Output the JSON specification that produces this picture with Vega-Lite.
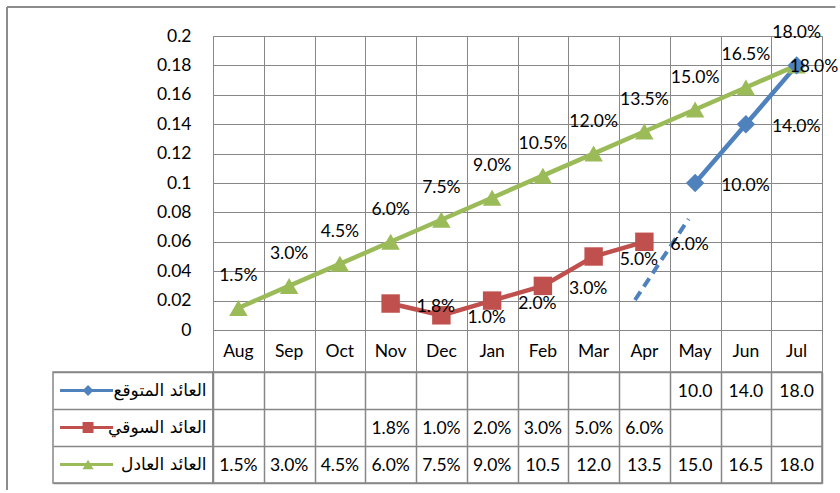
{
  "$schema": "https://vega.github.io/schema/vega-lite/v6.json",
  "padding": {"left": 6, "top": 6, "right": 0, "bottom": 0},
  "background": "white",
  "spacing": 0,
  "bounds": "flush",
  "columns": 2,
  "config": {
    "font": "Lato",
    "legend": {"disable": true},
    "axis": {"gridColor": "#878787", "gridOpacity": 1, "gridWidth": 1, "labelColor": "#000000", "labelFont": "Lato", "labelFontSize": 17.5, "domain": false, "ticks": false, "labelOverlap": false},
    "text": {"font": "Lato", "fontSize": 17.5, "color": "#000000"}
  },
  "datasets": {
    "rows": [
      {"month": "Aug", "series": "العائد العادل", "value": 0.015},
      {"month": "Sep", "series": "العائد العادل", "value": 0.03},
      {"month": "Oct", "series": "العائد العادل", "value": 0.045},
      {"month": "Nov", "series": "العائد العادل", "value": 0.06},
      {"month": "Dec", "series": "العائد العادل", "value": 0.075},
      {"month": "Jan", "series": "العائد العادل", "value": 0.09},
      {"month": "Feb", "series": "العائد العادل", "value": 0.105},
      {"month": "Mar", "series": "العائد العادل", "value": 0.12},
      {"month": "Apr", "series": "العائد العادل", "value": 0.135},
      {"month": "May", "series": "العائد العادل", "value": 0.15},
      {"month": "Jun", "series": "العائد العادل", "value": 0.165},
      {"month": "Jul", "series": "العائد العادل", "value": 0.18},
      {"month": "Nov", "series": "العائد السوقي", "value": 0.018},
      {"month": "Dec", "series": "العائد السوقي", "value": 0.01},
      {"month": "Jan", "series": "العائد السوقي", "value": 0.02},
      {"month": "Feb", "series": "العائد السوقي", "value": 0.03},
      {"month": "Mar", "series": "العائد السوقي", "value": 0.05},
      {"month": "Apr", "series": "العائد السوقي", "value": 0.06},
      {"month": "May", "series": "العائد المتوقع", "value": 0.10},
      {"month": "Jun", "series": "العائد المتوقع", "value": 0.14},
      {"month": "Jul", "series": "العائد المتوقع", "value": 0.18}
    ],
    "dash": [
      {"idx": 8.315, "value": 0.0204},
      {"idx": 9.37, "value": 0.0755}
    ],
    "keys": [
      {"series": "العائد المتوقع"},
      {"series": "العائد السوقي"},
      {"series": "العائد العادل"}
    ]
  },
  "concat": [
    {
      "width": 160,
      "height": 336,
      "view": {"stroke": null},
      "data": {"values": [{}]},
      "layer": [
        {
          "mark": {"type": "rule", "color": "#8c8c8c", "strokeWidth": 2},
          "encoding": {
            "x": {"datum": -0.2875, "type": "quantitative", "scale": {"domain": [0, 1], "nice": false, "zero": false}, "axis": null},
            "y": {"datum": 1.0863, "type": "quantitative", "scale": {"domain": [0, 1], "nice": false, "zero": false}, "axis": null},
            "y2": {"datum": -0.3512}
          }
        },
        {
          "mark": {"type": "rule", "color": "#8c8c8c", "strokeWidth": 2},
          "encoding": {
            "x": {"datum": -0.2875, "type": "quantitative", "scale": {"domain": [0, 1], "nice": false, "zero": false}, "axis": null},
            "x2": {"datum": 4.89},
            "y": {"datum": 1.0863, "type": "quantitative", "scale": {"domain": [0, 1], "nice": false, "zero": false}, "axis": null}
          }
        }
      ]
    },
    {
      "width": 609,
      "height": 336,
      "view": {"stroke": "#878787", "strokeWidth": 1},
      "layer": [
        {
          "data": {"name": "rows"},
          "transform": [{"calculate": "indexof(['Aug','Sep','Oct','Nov','Dec','Jan','Feb','Mar','Apr','May','Jun','Jul'], datum.month) + 0.5", "as": "idx"}],
          "mark": {"type": "line", "strokeWidth": 4.5},
          "encoding": {
            "x": {"field": "idx", "type": "quantitative", "title": null, "scale": {"domain": [0, 12], "nice": false, "zero": false},
                  "axis": {"values": [0,1,2,3,4,5,6,7,8,9,10,11,12], "labels": false, "grid": true}},
            "y": {"field": "value", "type": "quantitative", "title": null, "scale": {"domain": [-0.028571, 0.2], "nice": false, "zero": false},
                  "axis": {"values": [0,0.02,0.04,0.06,0.08,0.1,0.12,0.14,0.16,0.18,0.2], "format": ".2~f", "labelPadding": 22, "grid": true, "labelOverlap": false}},
            "color": {"field": "series", "type": "nominal", "scale": {"domain": ["العائد المتوقع", "العائد السوقي", "العائد العادل"], "range": ["#4F81BD", "#C0504D", "#9BBB59"]}, "legend": null}
          }
        },
        {
          "data": {"name": "dash"},
          "mark": {"type": "line", "strokeWidth": 4, "strokeDash": [10, 6], "color": "#4F81BD"},
          "encoding": {
            "x": {"field": "idx", "type": "quantitative", "title": null, "scale": {"domain": [0, 12], "nice": false, "zero": false},
                  "axis": {"values": [0,1,2,3,4,5,6,7,8,9,10,11,12], "labels": false, "grid": true}},
            "y": {"field": "value", "type": "quantitative", "title": null, "scale": {"domain": [-0.028571, 0.2], "nice": false, "zero": false},
                  "axis": {"values": [0,0.02,0.04,0.06,0.08,0.1,0.12,0.14,0.16,0.18,0.2], "format": ".2~f", "labelPadding": 22, "grid": true, "labelOverlap": false}}
          }
        },
        {
          "data": {"name": "rows"},
          "transform": [{"calculate": "indexof(['Aug','Sep','Oct','Nov','Dec','Jan','Feb','Mar','Apr','May','Jun','Jul'], datum.month) + 0.5", "as": "idx"}],
          "mark": {"type": "point", "filled": true, "size": 340, "opacity": 1},
          "encoding": {
            "x": {"field": "idx", "type": "quantitative", "title": null, "scale": {"domain": [0, 12], "nice": false, "zero": false},
                  "axis": {"values": [0,1,2,3,4,5,6,7,8,9,10,11,12], "labels": false, "grid": true}},
            "y": {"field": "value", "type": "quantitative", "title": null, "scale": {"domain": [-0.028571, 0.2], "nice": false, "zero": false},
                  "axis": {"values": [0,0.02,0.04,0.06,0.08,0.1,0.12,0.14,0.16,0.18,0.2], "format": ".2~f", "labelPadding": 22, "grid": true, "labelOverlap": false}},
            "color": {"field": "series", "type": "nominal", "legend": null},
            "shape": {"field": "series", "type": "nominal", "scale": {"domain": ["العائد المتوقع", "العائد السوقي", "العائد العادل"], "range": ["diamond", "square", "triangle-up"]}, "legend": null}
          }
        },
        {
          "data": {"name": "rows"},
          "transform": [
            {"filter": "datum.series == 'العائد العادل'"},
            {"calculate": "indexof(['Aug','Sep','Oct','Nov','Dec','Jan','Feb','Mar','Apr','May','Jun','Jul'], datum.month) + 0.5", "as": "idx"},
            {"calculate": "format(datum.value, '.1%')", "as": "lbl"}
          ],
          "mark": {"type": "text", "dy": -32, "baseline": "middle", "align": "center"},
          "encoding": {
            "x": {"field": "idx", "type": "quantitative", "title": null, "scale": {"domain": [0, 12], "nice": false, "zero": false},
                  "axis": {"values": [0,1,2,3,4,5,6,7,8,9,10,11,12], "labels": false, "grid": true}},
            "y": {"field": "value", "type": "quantitative", "title": null, "scale": {"domain": [-0.028571, 0.2], "nice": false, "zero": false},
                  "axis": {"values": [0,0.02,0.04,0.06,0.08,0.1,0.12,0.14,0.16,0.18,0.2], "format": ".2~f", "labelPadding": 22, "grid": true, "labelOverlap": false}},
            "text": {"field": "lbl"}
          }
        },
        {
          "data": {"name": "rows"},
          "transform": [
            {"filter": "datum.series == 'العائد السوقي' || (datum.series == 'العائد المتوقع' && datum.month != 'Jul')"},
            {"calculate": "indexof(['Aug','Sep','Oct','Nov','Dec','Jan','Feb','Mar','Apr','May','Jun','Jul'], datum.month) + 0.5", "as": "idx"},
            {"calculate": "format(datum.value, '.1%')", "as": "lbl"}
          ],
          "mark": {"type": "text", "dx": 26, "dy": 3, "baseline": "middle", "align": "left"},
          "encoding": {
            "x": {"field": "idx", "type": "quantitative", "title": null, "scale": {"domain": [0, 12], "nice": false, "zero": false},
                  "axis": {"values": [0,1,2,3,4,5,6,7,8,9,10,11,12], "labels": false, "grid": true}},
            "y": {"field": "value", "type": "quantitative", "title": null, "scale": {"domain": [-0.028571, 0.2], "nice": false, "zero": false},
                  "axis": {"values": [0,0.02,0.04,0.06,0.08,0.1,0.12,0.14,0.16,0.18,0.2], "format": ".2~f", "labelPadding": 22, "grid": true, "labelOverlap": false}},
            "text": {"field": "lbl"}
          }
        },
        {
          "data": {"name": "rows"},
          "transform": [
            {"filter": "datum.series == 'العائد المتوقع' && datum.month == 'Jul'"},
            {"calculate": "indexof(['Aug','Sep','Oct','Nov','Dec','Jan','Feb','Mar','Apr','May','Jun','Jul'], datum.month) + 0.5", "as": "idx"},
            {"calculate": "format(datum.value, '.1%')", "as": "lbl"}
          ],
          "mark": {"type": "text", "dx": -7, "dy": 2, "baseline": "middle", "align": "left"},
          "encoding": {
            "x": {"field": "idx", "type": "quantitative", "title": null, "scale": {"domain": [0, 12], "nice": false, "zero": false},
                  "axis": {"values": [0,1,2,3,4,5,6,7,8,9,10,11,12], "labels": false, "grid": true}},
            "y": {"field": "value", "type": "quantitative", "title": null, "scale": {"domain": [-0.028571, 0.2], "nice": false, "zero": false},
                  "axis": {"values": [0,0.02,0.04,0.06,0.08,0.1,0.12,0.14,0.16,0.18,0.2], "format": ".2~f", "labelPadding": 22, "grid": true, "labelOverlap": false}},
            "text": {"field": "lbl"}
          }
        },
        {
          "data": {"name": "rows"},
          "transform": [
            {"filter": "datum.series == 'العائد العادل'"},
            {"calculate": "indexof(['Aug','Sep','Oct','Nov','Dec','Jan','Feb','Mar','Apr','May','Jun','Jul'], datum.month) + 0.5", "as": "idx"}
          ],
          "mark": {"type": "text", "baseline": "middle", "align": "center", "dy": 1},
          "encoding": {
            "x": {"field": "idx", "type": "quantitative", "title": null, "scale": {"domain": [0, 12], "nice": false, "zero": false},
                  "axis": {"values": [0,1,2,3,4,5,6,7,8,9,10,11,12], "labels": false, "grid": true}},
            "y": {"datum": -0.01429, "type": "quantitative", "title": null, "scale": {"domain": [-0.028571, 0.2], "nice": false, "zero": false},
                  "axis": {"values": [0,0.02,0.04,0.06,0.08,0.1,0.12,0.14,0.16,0.18,0.2], "format": ".2~f", "labelPadding": 22, "grid": true, "labelOverlap": false}},
            "text": {"field": "month"}
          }
        }
      ]
    },
    {
      "width": 160,
      "height": 111,
      "view": {"stroke": "#878787", "strokeWidth": 1.5},
      "data": {"name": "keys"},
      "transform": [
        {"calculate": "indexof(['العائد المتوقع','العائد السوقي','العائد العادل'], datum.series) + 0.5", "as": "rowc"}
      ],
      "layer": [
        {
          "mark": {"type": "rule", "strokeWidth": 3},
          "encoding": {
            "x": {"datum": 0.044, "type": "quantitative", "scale": {"domain": [0, 1], "nice": false, "zero": false}, "axis": null},
            "x2": {"datum": 0.375},
            "y": {"field": "rowc", "type": "quantitative", "title": null, "scale": {"domain": [0, 3], "nice": false, "zero": false, "reverse": true},
                  "axis": {"values": [0,1,2,3], "labels": false, "grid": true, "gridWidth": 1.5}},
            "color": {"field": "series", "type": "nominal", "legend": null}
          }
        },
        {
          "mark": {"type": "point", "filled": true, "size": 120, "opacity": 1},
          "encoding": {
            "x": {"datum": 0.219, "type": "quantitative", "scale": {"domain": [0, 1], "nice": false, "zero": false}, "axis": null},
            "y": {"field": "rowc", "type": "quantitative", "title": null, "scale": {"domain": [0, 3], "nice": false, "zero": false, "reverse": true},
                  "axis": {"values": [0,1,2,3], "labels": false, "grid": true, "gridWidth": 1.5}},
            "color": {"field": "series", "type": "nominal", "legend": null},
            "shape": {"field": "series", "type": "nominal", "legend": null}
          }
        },
        {
          "mark": {"type": "text", "align": "right", "baseline": "middle", "font": "DejaVu Sans", "fontSize": 17, "dy": 0},
          "encoding": {
            "x": {"datum": 0.96, "type": "quantitative", "scale": {"domain": [0, 1], "nice": false, "zero": false}, "axis": null},
            "y": {"field": "rowc", "type": "quantitative", "title": null, "scale": {"domain": [0, 3], "nice": false, "zero": false, "reverse": true},
                  "axis": {"values": [0,1,2,3], "labels": false, "grid": true, "gridWidth": 1.5}},
            "text": {"field": "series"}
          }
        }
      ]
    },
    {
      "width": 609,
      "height": 111,
      "view": {"stroke": "#878787", "strokeWidth": 1.5},
      "data": {"name": "rows"},
      "transform": [
        {"calculate": "indexof(['Aug','Sep','Oct','Nov','Dec','Jan','Feb','Mar','Apr','May','Jun','Jul'], datum.month) + 0.5", "as": "idx"},
        {"calculate": "indexof(['العائد المتوقع','العائد السوقي','العائد العادل'], datum.series) + 0.5", "as": "rowc"},
        {"calculate": "format(datum.value * 100, '.1f') + (datum.value < 0.0995 ? '%' : '')", "as": "tlabel"}
      ],
      "mark": {"type": "text", "align": "center", "baseline": "middle", "dy": 1},
      "encoding": {
        "x": {"field": "idx", "type": "quantitative", "title": null, "scale": {"domain": [0, 12], "nice": false, "zero": false},
              "axis": {"values": [0,1,2,3,4,5,6,7,8,9,10,11,12], "labels": false, "grid": true, "gridWidth": 1.5}},
        "y": {"field": "rowc", "type": "quantitative", "title": null, "scale": {"domain": [0, 3], "nice": false, "zero": false, "reverse": true},
              "axis": {"values": [0,1,2,3], "labels": false, "grid": true, "gridWidth": 1.5}},
        "text": {"field": "tlabel"}
      }
    }
  ]
}
